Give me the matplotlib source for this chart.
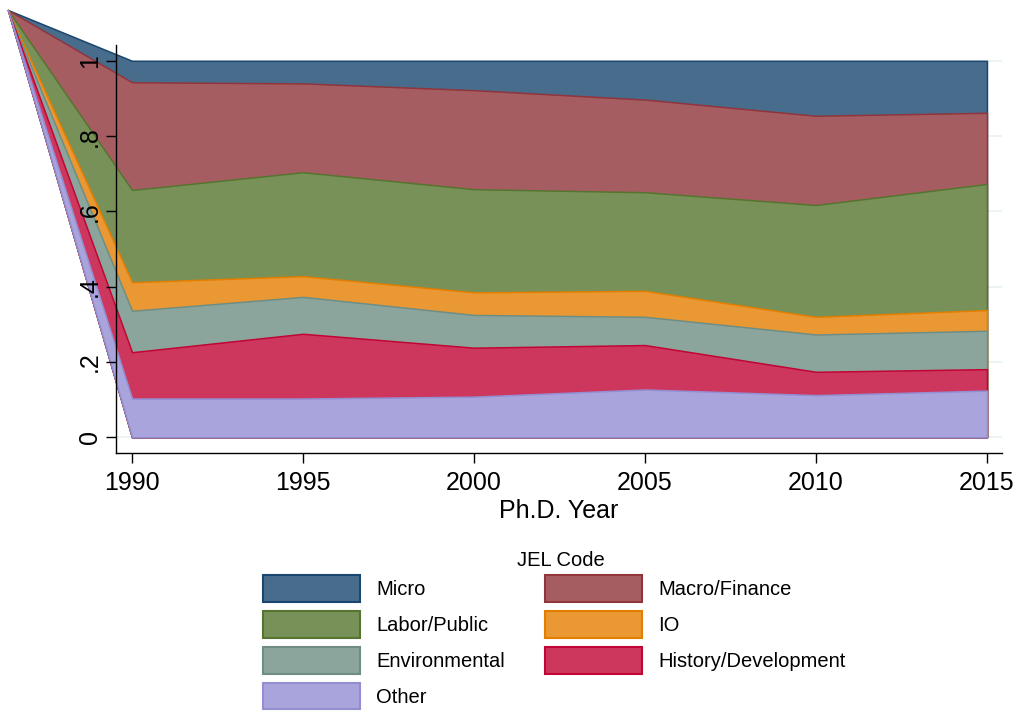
import matplotlib
matplotlib.use('Agg')
import matplotlib.pyplot as plt
import numpy as np
from matplotlib.patches import Patch

plt.rcParams['font.family'] = ['Liberation Sans', 'DejaVu Sans']

# ---- data (shares by JEL code) ----
years = [1990, 1995, 2000, 2005, 2010, 2015]
micro = [0.057, 0.060, 0.078, 0.103, 0.146, 0.138]
macro = [0.286, 0.236, 0.263, 0.246, 0.237, 0.189]
labor = [0.245, 0.276, 0.274, 0.262, 0.297, 0.335]
io = [0.076, 0.055, 0.060, 0.069, 0.047, 0.055]
env = [0.110, 0.098, 0.087, 0.075, 0.099, 0.102]
hist = [0.123, 0.172, 0.130, 0.118, 0.062, 0.057]
other = [0.103, 0.103, 0.108, 0.127, 0.112, 0.124]

labels = ['Other', 'History/Development', 'Environmental', 'IO',
          'Labor/Public', 'Macro/Finance', 'Micro']
series = [other, hist, env, io, labor, macro, micro]

# the original export has all area outlines starting from a stray point
artifact_x = 1986.37
artifact_y = 1.135

ytick_vals = [0, 0.2, 0.4, 0.6, 0.8, 1.0]
ytick_labels = ['0', '.2', '.4', '.6', '.8', '1']
xtick_vals = years

edge_cols = {'Micro': '#1a476f', 'Macro/Finance': '#90353b',
             'Labor/Public': '#55752f', 'IO': '#e37e00',
             'Environmental': '#6e8e84', 'History/Development': '#c10534',
             'Other': '#938dd2'}
fill_cols = {'Micro': '#486c8c', 'Macro/Finance': '#a65d62',
             'Labor/Public': '#779159', 'IO': '#e99833',
             'Environmental': '#8ba59d', 'History/Development': '#cd375d',
             'Other': '#a9a4db'}

W, H = 1017, 713
fig = plt.figure(figsize=(W / 100, H / 100), dpi=100)
ax = fig.add_axes([116 / W, 1 - 453 / H, 886 / W, 408 / H])

cum = np.cumsum(np.array(series), axis=0)
xs = np.concatenate([[artifact_x], years])
base = np.concatenate([[artifact_y], np.zeros(len(years))])
for i in reversed(range(len(series))):
    top = np.concatenate([[artifact_y], cum[i]])
    name = labels[i]
    pc = ax.fill_between(xs, base, top, facecolor=fill_cols[name],
                         edgecolor=edge_cols[name], linewidth=1.1, zorder=1)
    pc.set_clip_on(False)

ax.set_xlim(1989.53, 2015.44)
ax.set_ylim(-0.0417, 1.042)
ax.set_axisbelow(False)
# horizontal grid lines behind the areas
for v in ytick_vals:
    ax.axhline(v, color='#eaf2f3', linewidth=1.3, zorder=0.3)

ax.set_yticks(ytick_vals)
ax.set_yticklabels(ytick_labels, rotation=90, va='center')
ax.set_xticks(xtick_vals)
ax.set_xticklabels([str(y) for y in xtick_vals])
ax.tick_params(axis='both', length=7.2, width=1, direction='out',
               labelsize=18, colors='black')
ax.tick_params(axis='y', pad=3)
ax.tick_params(axis='x', pad=6)
for s in ['top', 'right']:
    ax.spines[s].set_visible(False)
for s in ['left', 'bottom']:
    ax.spines[s].set_linewidth(1)
    ax.spines[s].set_zorder(3)
ax.set_xlabel('Ph.D. Year', fontsize=18, labelpad=3)

# legend: column-wise order so rows read Micro/Macro, Labor/IO, Env/Hist, Other
order = ['Micro', 'Labor/Public', 'Environmental', 'Other',
         'Macro/Finance', 'IO', 'History/Development']
handles = [Patch(facecolor=fill_cols[n], edgecolor=edge_cols[n],
                 linewidth=1.5, label=n) for n in order]
fig.legend(handles=handles, loc='upper left',
           bbox_to_anchor=(263 / W, 1 - 575 / H), bbox_transform=fig.transFigure,
           frameon=False, borderpad=0, borderaxespad=0, ncol=2,
           handlelength=4.82, handleheight=1.66, labelspacing=0.46,
           handletextpad=0.79, columnspacing=2.0, fontsize=14.5)
fig.text(561 / W, 1 - 560 / H, 'JEL Code', ha='center', va='center',
         fontsize=14.5)

fig.savefig('out.png', dpi=100)
